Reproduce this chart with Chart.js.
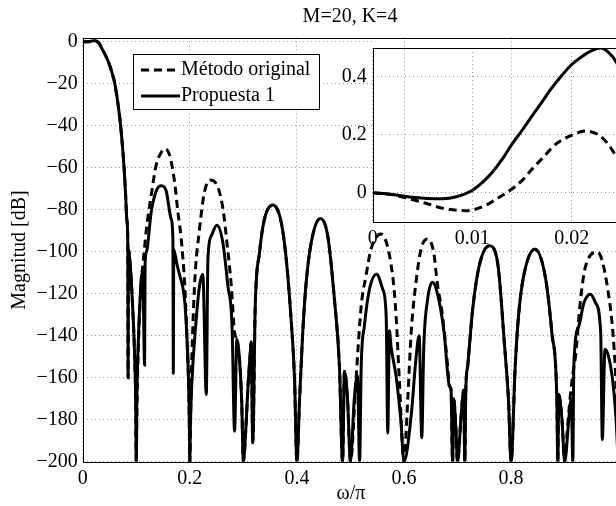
<!DOCTYPE html>
<html>
<head>
<meta charset="utf-8">
<script src="https://cdn.jsdelivr.net/npm/chart.js@4/dist/chart.umd.min.js"></script>
<style>
html, body { margin: 0; padding: 0; background: #fff; width: 616px; height: 506px; overflow: hidden; }
#wrap { position: relative; width: 616px; height: 506px; overflow: hidden; }
#mainChart { position: absolute; left: 0; top: 0; }
#insetChart { position: absolute; left: 330px; top: 30px; }
</style>
</head>
<body>
<div id="wrap">
  <canvas id="mainChart" width="640" height="506"></canvas>
  <canvas id="insetChart" width="300" height="230"></canvas>
</div>
<script>
const titleText = 'M=20, K=4'
const xLabel = 'ω/π'
const yLabel = 'Magnitud [dB]'
const seriesNames = ['Método original', 'Propuesta 1']

const xTicks = [0, 0.2, 0.4, 0.6, 0.8]
const yTicks = [0, -20, -40, -60, -80, -100, -120, -140, -160, -180, -200]
const insetXTicks = [0, 0.01, 0.02]
const insetYTicks = [0, 0.2, 0.4]

// Método original (dashed)
const freqOrig = [0, 0.002, 0.0037, 0.0055, 0.0071, 0.0094, 0.0114, 0.0125, 0.0137, 0.015, 0.016, 0.0172, 0.0184, 0.0201, 0.0214, 0.0231, 0.0245, 0.026, 0.028, 0.03, 0.0325,
  0.036, 0.04, 0.045, 0.05, 0.055, 0.06, 0.065, 0.07, 0.074, 0.077, 0.08, 0.0825, 0.0843, 0.0848, 0.0853, 0.088, 0.091, 0.094, 0.097, 0.099, 0.1,
  0.1015, 0.104, 0.107, 0.11, 0.114, 0.1191, 0.128, 0.137, 0.1469, 0.1528, 0.1623, 0.1717, 0.1777, 0.184, 0.1905, 0.1945, 0.1985, 0.2,
  0.2025, 0.2089, 0.2183, 0.2273, 0.2388, 0.2526, 0.262, 0.27, 0.2774, 0.2836, 0.2878, 0.293, 0.297, 0.3,
  0.3045, 0.3087, 0.3136, 0.3146, 0.3176, 0.3222, 0.3302, 0.3394, 0.3553, 0.3707, 0.3801, 0.3891, 0.3955, 0.4,
  0.405, 0.4109, 0.4173, 0.4268, 0.4437, 0.4575, 0.4701, 0.4794, 0.4853, 0.4888, 0.4945, 0.5,
  0.5101, 0.52, 0.529, 0.5385, 0.5568, 0.5786, 0.5852, 0.5915, 0.6,
  0.607, 0.6134, 0.6223, 0.6318, 0.6441, 0.6555, 0.662, 0.6719, 0.6815, 0.6848, 0.6878, 0.6908, 0.6928, 0.697, 0.7,
  0.7067, 0.7115, 0.7135, 0.7155, 0.7189, 0.7282, 0.7404, 0.7593, 0.7748, 0.7883, 0.795, 0.8,
  0.8076, 0.8137, 0.8231, 0.8443, 0.8639, 0.8763, 0.8853, 0.8873, 0.8889, 0.895, 0.9,
  0.905, 0.91, 0.9155, 0.9202, 0.9296, 0.939, 0.9613, 0.9833, 0.9923, 0.997, 1.0]
const magOrig = [0, -0.007, -0.021, -0.038, -0.054, -0.062, -0.043, -0.02, 0.006, 0.042, 0.081, 0.125, 0.168, 0.2, 0.213, 0.189, 0.124, 0.03, -0.2, -0.6, -1.6,
  -3.3, -5.2, -7.8, -11, -15, -20, -28, -38, -49, -59, -72, -85, -97, -160, -99, -104, -115, -130, -150, -172, -200,
  -170, -145, -125, -113, -102, -89, -73, -59, -52.6, -51, -54, -67, -81, -94, -116, -140, -172, -200,
  -164, -116, -89, -71.7, -65.9, -69.4, -79.7, -97.2, -116, -138.5, -141.8, -152, -172, -200,
  -185, -164, -146, -143, -191, -125.8, -100.4, -84.5, -77.8, -86, -103.6, -132, -160, -200,
  -170.4, -138.5, -114.7, -95.6, -84.2, -92.4, -122.7, -154.5, -200, -157, -170, -200,
  -162, -126, -111.5, -98.8, -91.6, -111, -130.6, -162, -200,
  -170.4, -138.5, -114.7, -98.8, -94, -100.4, -114.6, -130.6, -154.5, -164, -165.6, -200, -170, -185, -200,
  -178, -166, -200, -165, -154.5, -127.4, -106.8, -97.2, -105.2, -146.5, -170, -200,
  -155, -131, -112, -98.8, -112, -139, -168.8, -200, -168, -180, -200,
  -185, -170, -158, -150, -123, -107, -100.2, -122.7, -146, -170, -200]

// Propuesta 1 (solid)
const freqProp = [0, 0.002, 0.0037, 0.0055, 0.007, 0.0085, 0.0099, 0.011, 0.012, 0.013, 0.014, 0.015, 0.016, 0.017, 0.018, 0.019, 0.02, 0.021, 0.022, 0.0229, 0.0237, 0.0245, 0.026, 0.028, 0.03, 0.0325,
  0.036, 0.04, 0.045, 0.05, 0.055, 0.06, 0.065, 0.07, 0.074, 0.077, 0.08, 0.0825, 0.0843, 0.0848, 0.0853, 0.088, 0.091, 0.094, 0.097, 0.099, 0.1,
  0.1012, 0.1042, 0.1072, 0.1092, 0.1121, 0.1156, 0.1165, 0.1191, 0.128, 0.1375, 0.1469, 0.1558, 0.1654, 0.1685, 0.1692, 0.17, 0.176, 0.182, 0.187, 0.191, 0.1945, 0.1975, 0.1993, 0.2,
  0.2012, 0.2035, 0.2121, 0.2183, 0.2243, 0.2308, 0.2338, 0.2402, 0.2506, 0.2617, 0.271, 0.2789, 0.2836, 0.2878, 0.293, 0.297, 0.3,
  0.3045, 0.3087, 0.3136, 0.3146, 0.3176, 0.3222, 0.3302, 0.3394, 0.3553, 0.3707, 0.3801, 0.3891, 0.3955, 0.4,
  0.405, 0.4109, 0.4173, 0.4268, 0.4437, 0.4575, 0.4701, 0.4794, 0.4853, 0.4888, 0.4945, 0.5,
  0.5072, 0.5131, 0.5171, 0.5201, 0.526, 0.5355, 0.5489, 0.5603, 0.5667, 0.5697, 0.5727, 0.5757, 0.5856, 0.594, 0.6,
  0.6134, 0.6223, 0.6283, 0.6332, 0.6368, 0.6441, 0.6531, 0.662, 0.6749, 0.6848, 0.6878, 0.6908, 0.6928, 0.697, 0.7,
  0.7067, 0.7115, 0.7135, 0.7155, 0.7189, 0.7282, 0.7404, 0.7593, 0.7748, 0.7883, 0.795, 0.8,
  0.8076, 0.8137, 0.8231, 0.8443, 0.8639, 0.8763, 0.8853, 0.8873, 0.8889, 0.895, 0.9,
  0.9084, 0.9123, 0.9153, 0.9171, 0.9265, 0.9359, 0.9483, 0.9579, 0.9673, 0.9703, 0.9753, 0.982, 0.99, 0.996, 1.0]
const magProp = [0, -0.006, -0.015, -0.02, -0.021, -0.013, 0.006, 0.035, 0.07, 0.115, 0.168, 0.215, 0.265, 0.313, 0.362, 0.405, 0.443, 0.47, 0.491, 0.5, 0.485, 0.45, 0.32, 0.02, -0.5, -1.6,
  -3.3, -5.2, -7.8, -11, -15, -20, -28, -38, -49, -59, -72, -85, -97, -160, -99, -104, -115, -130, -150, -172, -200,
  -170, -140, -122, -113, -110, -154, -106, -100, -81, -71, -68.6, -71, -84.5, -95, -158, -99, -106, -112, -117, -125, -140, -160, -182, -200,
  -182, -164, -132, -116, -110.7, -168, -103.6, -92.4, -87.4, -95.6, -116, -135.4, -185.5, -141.8, -152, -172, -200,
  -185, -164, -146, -143, -191, -125.8, -100.4, -84.5, -77.8, -86, -103.6, -132, -160, -200,
  -170.4, -138.5, -114.7, -95.6, -84.2, -92.4, -122.7, -154.5, -200, -157, -170, -200,
  -170, -159, -200, -154.5, -135.4, -117.9, -110.7, -117.9, -130.6, -186.3, -137.7, -145, -160, -180, -200,
  -178, -151, -140, -188.6, -146.5, -122.7, -114.6, -119.5, -138.5, -164, -165.6, -200, -170, -185, -200,
  -178, -166, -200, -165, -154.5, -127.4, -106.8, -97.2, -105.2, -146.5, -170, -200,
  -155, -131, -112, -98.8, -112, -139, -168.8, -200, -168, -180, -200,
  -178, -170.4, -200, -154.5, -135.4, -124.4, -120.3, -124.4, -138.5, -189.5, -146.5, -150, -162, -180, -200]

const serif = 'Liberation Serif'
const fontSize = 20
const gridGray = '#999999'
// where the inset axes sits on the page
const insetBox = { left: 372.7, top: 37.5, right: 621.5, bottom: 221.7 }

const fmt = v => String(Number(v.toFixed(4))).replace('-', '\u2212')

const makeSets = () => [{
    label: seriesNames[0],
    data: freqOrig.map((x, i) => ({ x: x, y: magOrig[i] })),
    borderColor: '#000',
    borderWidth: 3,
    borderDash: [8, 5],
    pointRadius: 0,
    fill: false,
    cubicInterpolationMode: 'monotone',
    clip: 0
}, {
    label: seriesNames[1],
    data: freqProp.map((x, i) => ({ x: x, y: magProp[i] })),
    borderColor: '#000',
    borderWidth: 3,
    pointRadius: 0,
    fill: false,
    cubicInterpolationMode: 'monotone',
    clip: 0
}]

const axis = (tickList, min, max, isX, size, pad) => ({
    type: 'linear',
    min: min,
    max: max,
    afterBuildTicks: s => { s.ticks = tickList.map(v => ({ value: v })) },
    afterFit: s => { if (isX) s.height = size; else s.width = size },
    grid: { color: gridGray, lineWidth: 1, drawTicks: false },
    border: { display: false, dash: [1, 3] },
    ticks: {
        color: '#000',
        font: { family: serif, size: fontSize },
        padding: pad,
        autoSkip: false,
        maxRotation: 0,
        callback: v => fmt(v)
    }
})

const boxPlugin = {
    id: 'box',
    afterDatasetsDraw(chart) {
        const a = chart.chartArea
        const ctx = chart.ctx
        ctx.save()
        ctx.strokeStyle = '#000'
        ctx.lineWidth = 1
        ctx.strokeRect(Math.round(a.left) + 0.5, Math.round(a.top) + 0.5, Math.round(a.right - a.left), Math.round(a.bottom - a.top))
        ctx.restore()
    }
}

const mainDecor = {
    id: 'mainDecor',
    beforeDatasetsDraw(chart) {
        // the inset hides the main grid, except its vertical lines
        const ctx = chart.ctx
        const x = chart.scales.x
        ctx.save()
        ctx.fillStyle = '#fff'
        ctx.fillRect(insetBox.left, insetBox.top, insetBox.right - insetBox.left, insetBox.bottom - insetBox.top)
        ctx.strokeStyle = gridGray
        ctx.lineWidth = 1
        ctx.setLineDash([1, 3])
        xTicks.forEach(v => {
            const px = Math.round(x.getPixelForValue(v)) + 0.5
            if (px > insetBox.left + 1 && px < insetBox.right) {
                ctx.beginPath()
                ctx.moveTo(px, insetBox.top)
                ctx.lineTo(px, insetBox.bottom)
                ctx.stroke()
            }
        })
        ctx.restore()
    },
    afterDraw(chart) {
        const ctx = chart.ctx
        ctx.save()
        ctx.fillStyle = '#000'
        ctx.font = fontSize + 'px "' + serif + '"'
        ctx.textAlign = 'center'
        ctx.textBaseline = 'middle'
        ctx.fillText(titleText, 350, 17)
        ctx.fillText(xLabel, 351, 494)
        ctx.save()
        ctx.translate(20, 250)
        ctx.rotate(-Math.PI / 2)
        ctx.fillText(yLabel, 0, 0)
        ctx.restore()

        // legend
        ctx.fillStyle = '#fff'
        ctx.fillRect(133.5, 54.5, 186, 55)
        ctx.strokeStyle = '#000'
        ctx.lineWidth = 1
        ctx.strokeRect(133.5, 54.5, 186, 55)
        const rows = [{ y: 70, dash: [8, 5] }, { y: 96, dash: [] }]
        rows.forEach((r, i) => {
            ctx.lineWidth = 3
            ctx.setLineDash(r.dash)
            ctx.beginPath()
            ctx.moveTo(141, r.y)
            ctx.lineTo(180, r.y)
            ctx.stroke()
            ctx.setLineDash([])
            ctx.fillStyle = '#000'
            ctx.textAlign = 'left'
            ctx.fillText(seriesNames[i], 181, r.y)
        })
        ctx.restore()
    }
}

new Chart(document.getElementById('mainChart'), {
    type: 'line',
    data: { datasets: makeSets() },
    options: {
        responsive: false,
        animation: false,
        layout: { padding: { top: 37.5, right: 21.8, left: 0, bottom: 0 } },
        plugins: { legend: { display: false }, tooltip: { enabled: false } },
        scales: {
            x: axis(xTicks, 0, 1, true, 44.3, 5),
            y: axis(yTicks, -200, 2, false, 82.7, 5)
        }
    },
    plugins: [mainDecor, boxPlugin]
})

new Chart(document.getElementById('insetChart'), {
    type: 'line',
    data: { datasets: makeSets() },
    options: {
        responsive: false,
        animation: false,
        layout: { padding: { top: 7.5, right: 8.5, left: 0, bottom: 0 } },
        plugins: { legend: { display: false }, tooltip: { enabled: false } },
        scales: {
            x: axis(insetXTicks, 0, 0.025, true, 38.3, 5),
            y: axis(insetYTicks, -0.1, 0.5, false, 42.7, 6)
        }
    },
    plugins: [boxPlugin]
})
</script>
</body>
</html>
